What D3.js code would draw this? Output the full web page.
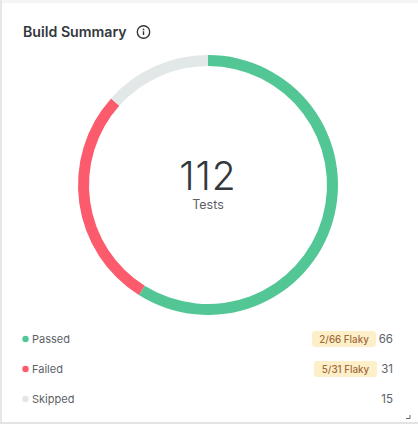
<!DOCTYPE html>
<html>
<head>
<meta charset="utf-8">
<script src="https://cdn.jsdelivr.net/npm/d3@7"></script>
<style>
html, body { margin: 0; padding: 0; background: #fff; }
svg { display: block; font-family: Inter, "Noto Sans", sans-serif; }
</style>
</head>
<body>
<div id="chart"></div>
<script>
var categories = ["Passed", "Failed", "Skipped"];
var counts = [66, 31, 15];
var flakyLabels = ["2/66 Flaky", "5/31 Flaky", null];
var colors = ["#52c795", "#fb5b6c", "#e2e7e7"];
var totalLabel = "112";
var totalCaption = "Tests";
var title = "Build Summary";

var width = 418, height = 424;
var cx = 208, cy = 185;

var svg = d3.select("#chart").append("svg")
	.attr("width", width)
	.attr("height", height);

// card edges
svg.append("rect").attr("x", 0).attr("y", 0).attr("width", width).attr("height", 3).attr("fill", "#f4f5f5");
svg.append("rect").attr("x", 0).attr("y", 0).attr("width", 2).attr("height", height).attr("fill", "#e6e7e7");
svg.append("rect").attr("x", 0).attr("y", 422).attr("width", width).attr("height", 2).attr("fill", "#e3e4e4");

svg.append("text")
	.attr("x", 23).attr("y", 37)
	.attr("font-size", 14.2)
	.attr("font-weight", 600)
	.attr("fill", "#33383d")
	.text(title);

// info icon
var info = svg.append("g").attr("transform", "translate(143.5,32)");
info.append("circle").attr("r", 6.2).attr("fill", "none").attr("stroke", "#33383d").attr("stroke-width", 1.4);
info.append("circle").attr("cy", -2.6).attr("r", 0.9).attr("fill", "#33383d");
info.append("line").attr("y1", -0.8).attr("y2", 3).attr("stroke", "#33383d").attr("stroke-width", 1.4);

// donut
var pie = d3.pie().sort(null).value(function(d){ return d; });
var arc = d3.arc().innerRadius(119).outerRadius(130);

svg.append("g")
	.attr("transform", "translate(" + cx + "," + cy + ")")
	.selectAll("path")
	.data(pie(counts))
	.enter().append("path")
	.attr("d", arc)
	.attr("fill", function(d, i){ return colors[i]; });

svg.append("text")
	.attr("x", cx).attr("y", 190)
	.attr("text-anchor", "middle")
	.attr("font-size", 39)
	.attr("font-weight", 300)
	.attr("letter-spacing", 1)
	.attr("fill", "#33383d")
	.text(totalLabel);

svg.append("text")
	.attr("x", cx).attr("y", 208.5)
	.attr("text-anchor", "middle")
	.attr("font-size", 12.5)
	.attr("fill", "#5c6166")
	.text(totalCaption);

// legend rows
var rowY = d3.scalePoint().domain(categories).range([339, 399]);

var rows = svg.selectAll(".row")
	.data(categories)
	.enter().append("g")
	.attr("class", "row")
	.attr("transform", function(d){ return "translate(0," + rowY(d) + ")"; });

rows.append("circle")
	.attr("cx", 25.5)
	.attr("r", 3.2)
	.attr("fill", function(d, i){ return colors[i]; });

rows.append("text")
	.attr("x", 32).attr("y", 4)
	.attr("font-size", 11)
	.attr("fill", "#5c6166")
	.text(function(d){ return d; });

rows.append("text")
	.attr("x", 393).attr("y", 3.5)
	.attr("text-anchor", "end")
	.attr("font-size", 11.5)
	.attr("fill", "#5c6166")
	.text(function(d, i){ return counts[i]; });

var flaky = rows.filter(function(d, i){ return flakyLabels[i]; });

flaky.append("rect")
	.attr("x", function(d, i){ return i == 0 ? 312 : 314; })
	.attr("y", -8)
	.attr("width", function(d, i){ return i == 0 ? 64 : 63; })
	.attr("height", 16)
	.attr("rx", 3)
	.attr("fill", "#fdf0c8");

flaky.append("text")
	.attr("x", function(d, i){ return i == 0 ? 344 : 345.5; }).attr("y", 3.5)
	.attr("text-anchor", "middle")
	.attr("font-size", 9.8)
	.attr("font-weight", 500)
	.attr("fill", "#a26a3e")
	.text(function(d){ return flakyLabels[categories.indexOf(d)]; });

// resize handle
svg.append("path")
	.attr("d", d3.line()([[410, 415], [410, 418.5], [406, 418.5]]))
	.attr("fill", "none")
	.attr("stroke", "#666")
	.attr("stroke-width", 1);
</script>
</body>
</html>
